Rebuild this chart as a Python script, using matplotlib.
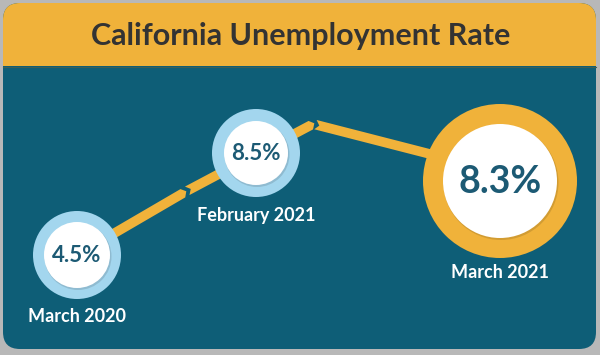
import numpy as np
import matplotlib.pyplot as plt
from matplotlib.patches import Circle, FancyBboxPatch, Rectangle, Polygon

# ── Dati ──────────────────────────────────────────────────────────────────────
periods = ["March 2020", "February 2021", "March 2021"]
rates = [4.5, 8.5, 8.3]
title = "California Unemployment Rate"

# ── Layout (pixel, origine in alto a sinistra) ────────────────────────────────
W, H = 600, 355
node_x = [77, 256, 500]
node_y = [255, 153, 181]
ring_r = [44, 44, 77]
inner_r = [33, 32, 57]
ring_col = ["#a3d6ee", "#a3d6ee", "#f0b23a"]
pct_size = [16, 16, 27]
label_y = [316, 215, 272]

# percorso della linea: tratti separati da piccoli "chevron"
path = [(77, 255), (185, 192), (313, 124), (500, 172)]

TEAL = "#0e5e77"
YELLOW = "#f0b23a"
TEXT_DARK = "#1c5a74"

plt.rcParams['font.family'] = ['Lato', 'DejaVu Sans']

fig = plt.figure(figsize=(W / 100, H / 100), dpi=100)
fig.patch.set_facecolor("#b8b8b8")
ax = fig.add_axes([0, 0, 1, 1])
ax.set_xlim(0, W)
ax.set_ylim(H, 0)
ax.set_aspect("equal")
ax.axis("off")

# ── Card ──────────────────────────────────────────────────────────────────────
ax.add_patch(FancyBboxPatch((3, 3), 593, 346, boxstyle="round,pad=0,rounding_size=17",
                            fc=TEAL, ec="none"))
ax.add_patch(FancyBboxPatch((3, 3), 593, 100, boxstyle="round,pad=0,rounding_size=17",
                            fc=YELLOW, ec="none"))
ax.add_patch(Rectangle((3, 66), 593, 60, fc=TEAL, ec="none"))
ax.plot([3, 596], [66.5, 66.5], color="#3d5f55", lw=0.8)
ax.text(301, 36, title, ha="center", va="center", fontsize=22,
        fontweight="bold", color="#333333")


# ── Linea a segmenti con estremi a chevron ────────────────────────────────────
def band(p0, p1, hw=4.8, tip=4.0, notch_start=True, tip_end=True):
    p0, p1 = np.array(p0, float), np.array(p1, float)
    d = (p1 - p0) / np.linalg.norm(p1 - p0)
    n = np.array([-d[1], d[0]])
    pts = [p0 - n * hw, p1 - n * hw]
    if tip_end:
        pts.append(p1 + d * tip)
    pts += [p1 + n * hw, p0 + n * hw]
    if notch_start:
        pts.append(p0 + d * tip)
    return Polygon(pts, closed=True, fc=YELLOW, ec="none")


gap = 5.0
for i in range(len(path) - 1):
    a, b = np.array(path[i], float), np.array(path[i + 1], float)
    d = (b - a) / np.linalg.norm(b - a)
    start = a + d * gap / 2 if i > 0 else a
    end = b - d * gap / 2 if i < len(path) - 2 else b
    ax.add_patch(band(start, end, notch_start=i > 0, tip_end=i < len(path) - 2))

# ── Cerchi e testi ────────────────────────────────────────────────────────────
for i in range(len(rates)):
    cx, cy = node_x[i], node_y[i]
    ax.add_patch(Circle((cx, cy), ring_r[i], fc=ring_col[i], ec="none"))
    ax.add_patch(Circle((cx + 1, cy + 1.5), inner_r[i] + 0.5, fc="black", alpha=0.12, ec="none"))
    ax.add_patch(Circle((cx, cy), inner_r[i], fc="white", ec="none"))
    ax.text(cx, cy + 1, f"{rates[i]:.1f}%", ha="center", va="center",
            fontsize=pct_size[i], fontweight="bold", color=TEXT_DARK)
    ax.text(cx, label_y[i], periods[i], ha="center", va="center",
            fontsize=13, fontweight="bold", color="white")

fig.savefig("out.png", dpi=100, facecolor=fig.get_facecolor())
